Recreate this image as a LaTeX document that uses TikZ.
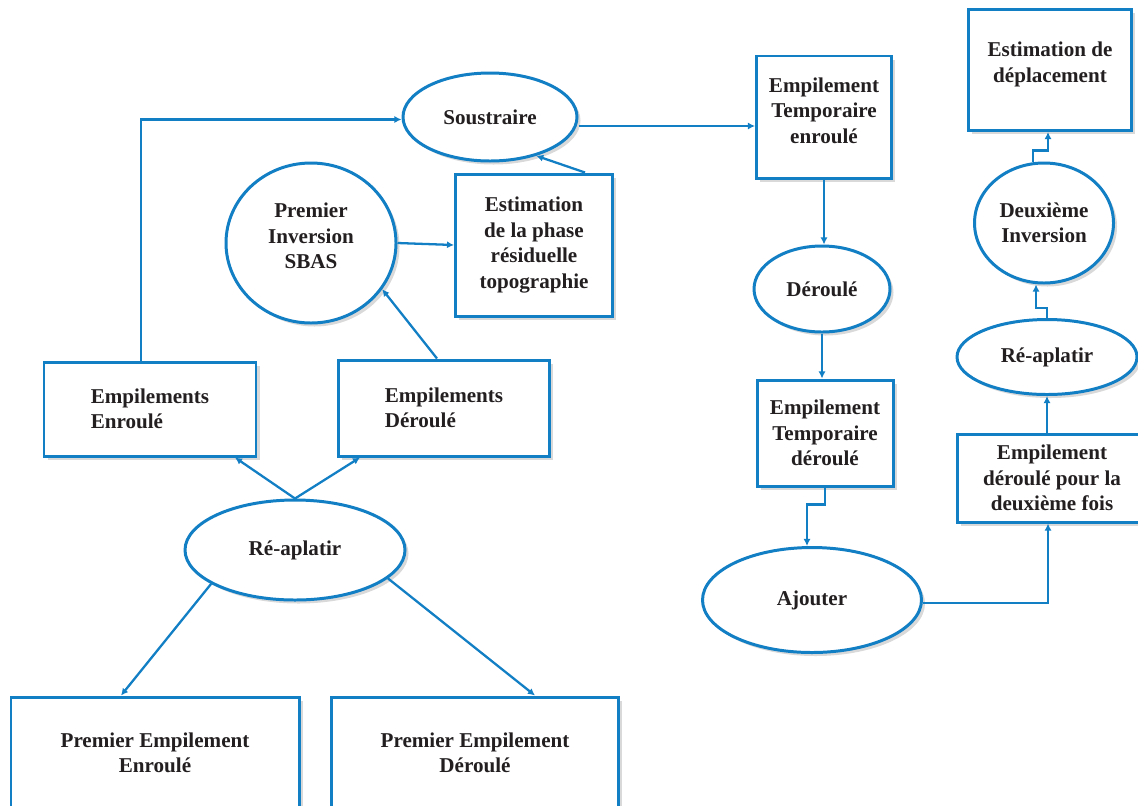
\documentclass[tikz,border=0pt]{standalone}
\usepackage{fontspec}
\setmainfont{Liberation Serif}
\usepackage{tikz}
\usetikzlibrary{positioning,shadows,shapes.geometric,arrows.meta}
\usepackage{xcolor}
\definecolor{flowblue}{RGB}{18,126,196}
\definecolor{inkgray}{RGB}{35,31,32}

\begin{document}
\begin{tikzpicture}[
    every node/.style={font=\fontsize{12}{14.5}\selectfont\bfseries, text=inkgray, align=center},
    boxnode/.style={draw=flowblue, line width=1.7pt, fill=white, rectangle,
      drop shadow={shadow xshift=0.07cm, shadow yshift=-0.07cm, opacity=0.3}},
    ovalnode/.style={draw=flowblue, line width=1.7pt, fill=white, ellipse, inner sep=0pt,
      drop shadow={shadow xshift=0.07cm, shadow yshift=-0.07cm, opacity=0.3}},
    flow/.style={draw=flowblue, line width=1.3pt, -{Latex[length=4pt,width=4pt]}}
  ]
  \useasboundingbox (0,0) rectangle (22.76,-16.10);

  % Left part
  \node[ovalnode, minimum width=3.48cm, minimum height=1.76cm] (sous) at (9.80,-2.34) {Soustraire};
  \node[boxnode, minimum width=3.14cm, minimum height=2.84cm] (est) at (10.68,-4.90) {Estimation\\de la phase\\résiduelle\\topographie};
  \node[ovalnode, minimum width=3.40cm, minimum height=3.20cm, text depth=0.28cm] (pinv) at (6.22,-4.86) {Premier\\Inversion\\SBAS};
  \node[boxnode, minimum width=4.24cm, minimum height=1.88cm, align=left] (empenr) at (3.00,-8.18) {Empilements\\Enroulé};
  \node[boxnode, minimum width=4.22cm, minimum height=1.92cm, align=left] (empder) at (8.88,-8.16) {Empilements\\Déroulé};
  \node[ovalnode, minimum width=4.40cm, minimum height=2.00cm] (raL) at (5.90,-11.00) {Ré-aplatir};
  \node[boxnode, minimum width=5.76cm, minimum height=2.24cm] (pee) at (3.10,-15.06) {Premier Empilement\\Enroulé};
  \node[boxnode, minimum width=5.74cm, minimum height=2.24cm] (ped) at (9.50,-15.06) {Premier Empilement\\Déroulé};

  % Right part
  \node[boxnode, minimum width=2.70cm, minimum height=2.44cm, text depth=0.26cm] (tmpenr) at (16.48,-2.34) {Empilement\\Temporaire\\enroulé};
  \node[ovalnode, minimum width=2.72cm, minimum height=1.72cm] (der) at (16.44,-5.78) {Déroulé};
  \node[boxnode, minimum width=2.72cm, minimum height=2.12cm] (tmpder) at (16.50,-8.66) {Empilement\\Temporaire\\déroulé};
  \node[ovalnode, minimum width=4.38cm, minimum height=2.10cm] (ajout) at (16.24,-12.00) {Ajouter};
  \node[boxnode, minimum width=3.80cm, minimum height=1.76cm] (edd) at (21.04,-9.56) {Empilement\\déroulé pour la\\deuxième fois};
  \node[ovalnode, minimum width=3.60cm, minimum height=1.50cm] (raR) at (20.94,-7.14) {Ré-aplatir};
  \node[ovalnode, minimum width=2.78cm, minimum height=2.40cm] (dinv) at (20.88,-4.46) {Deuxième\\Inversion};
  \node[boxnode, minimum width=3.26cm, minimum height=2.42cm, text depth=0.32cm] (depl) at (21.00,-1.40) {Estimation de\\déplacement};

  % Connectors, left
  \draw[flow] ([xshift=-0.18cm]empenr.north) |- ([yshift=-0.05cm]sous.west);
  \draw[flow] ([yshift=-0.18cm]sous.east) -- ([yshift=-0.18cm]tmpenr.west);
  \draw[flow] ([xshift=1.02cm]est.north) -- (sous.-40);
  \draw[flow] (pinv.east) -- (est.west);
  \draw[flow] ([xshift=-0.14cm]empder.north) -- (pinv.-33);
  \draw[flow] (raL.north) -- ([xshift=1.70cm]empenr.south);
  \draw[flow] (raL.north) -- ([xshift=-1.68cm]empder.south);
  \draw[flow] (raL.-158) -- ([xshift=-0.68cm]pee.north);
  \draw[flow] (raL.-17) -- ([xshift=1.20cm]ped.north);

  % Connectors, right
  \draw[flow] (tmpenr.south) -- (tmpenr.south |- der.north);
  \draw[flow] (der.south) -- (der.south |- tmpder.north);
  \draw[flow] (tmpder.south) -- ++(0,-0.34) -| ([xshift=-0.10cm]ajout.north);
  \draw[flow] ([yshift=-0.06cm]ajout.east) -| ([xshift=-0.08cm]edd.south);
  \draw[flow] (raR.south |- edd.north) -- (raR.south);
  \draw[flow] (raR.north) -- ++(0,0.20) -| ([xshift=-0.16cm]dinv.south);
  \draw[flow] ([xshift=-0.22cm]dinv.north) -- ++(0,0.22) -| ([xshift=-0.04cm]depl.south);
\end{tikzpicture}
\end{document}
